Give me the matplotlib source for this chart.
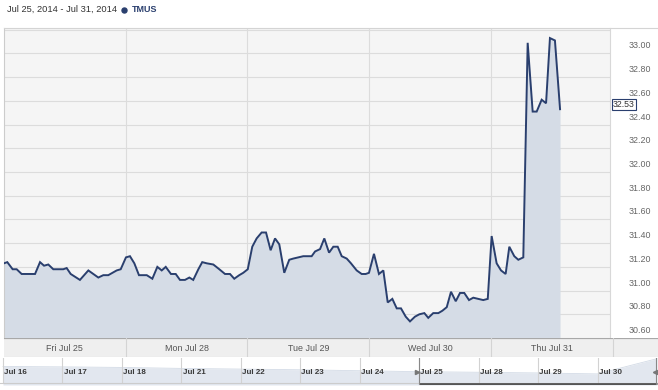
import matplotlib

matplotlib.use("Agg")
import matplotlib.pyplot as plt
from matplotlib.lines import Line2D
from matplotlib.transforms import offset_copy, blended_transform_factory

plt.rcParams["font.family"] = ["Liberation Sans", "DejaVu Sans"]

# -- Data ---------------------------------------------------------------------

# position in trading days since the Jul 25 open (1 unit = one session)
t = [0.000, 0.027, 0.071, 0.104, 0.145, 0.255, 0.296, 0.329, 0.364, 0.405,
     0.487, 0.515, 0.548, 0.624, 0.693, 0.775, 0.816, 0.857, 0.926, 0.959,
     1.002, 1.035, 1.071, 1.109, 1.173, 1.219, 1.260, 1.296, 1.329, 1.372,
     1.411, 1.446, 1.487, 1.523, 1.555, 1.597, 1.629, 1.666, 1.720, 1.769,
     1.816, 1.857, 1.892, 1.933, 1.966, 2.003, 2.040, 2.076, 2.117, 2.153,
     2.191, 2.227, 2.262, 2.303, 2.344, 2.377, 2.418, 2.459, 2.528, 2.556,
     2.597, 2.632, 2.671, 2.706, 2.742, 2.775, 2.816, 2.851, 2.898, 2.939,
     2.972, 2.999, 3.040, 3.081, 3.117, 3.153, 3.191, 3.227, 3.262, 3.301,
     3.336, 3.377, 3.413, 3.454, 3.486, 3.527, 3.569, 3.602, 3.638, 3.673,
     3.712, 3.747, 3.782, 3.821, 3.856, 3.897, 3.938, 3.975, 4.007, 4.048,
     4.084, 4.122, 4.152, 4.193, 4.226, 4.267, 4.303, 4.344, 4.377, 4.418,
     4.454, 4.486, 4.527, 4.569]
price = [31.23, 31.24, 31.18, 31.18, 31.14, 31.14, 31.24, 31.21, 31.22, 31.18,
         31.18, 31.19, 31.14, 31.09, 31.17, 31.11, 31.13, 31.13, 31.17, 31.18,
         31.28, 31.29, 31.23, 31.13, 31.13, 31.10, 31.20, 31.17, 31.20, 31.14,
         31.14, 31.09, 31.09, 31.11, 31.09, 31.18, 31.24, 31.23, 31.22, 31.18,
         31.14, 31.14, 31.10, 31.13, 31.15, 31.18, 31.37, 31.44, 31.49, 31.49,
         31.34, 31.44, 31.39, 31.15, 31.26, 31.27, 31.28, 31.29, 31.29, 31.33,
         31.35, 31.44, 31.32, 31.37, 31.37, 31.29, 31.27, 31.23, 31.17, 31.14,
         31.14, 31.15, 31.31, 31.14, 31.17, 30.90, 30.93, 30.85, 30.85, 30.78,
         30.74, 30.78, 30.80, 30.81, 30.77, 30.81, 30.81, 30.83, 30.86, 30.99,
         30.91, 30.98, 30.98, 30.92, 30.94, 30.93, 30.92, 30.93, 31.46, 31.23,
         31.17, 31.14, 31.37, 31.29, 31.26, 31.28, 33.09, 32.51, 32.51, 32.61,
         32.58, 33.13, 33.11, 32.53]

day_labels = ["Fri Jul 25", "Mon Jul 28", "Tue Jul 29", "Wed Jul 30", "Thu Jul 31"]
y_ticks = [30.60, 30.80, 31.00, 31.20, 31.40, 31.60, 31.80, 32.00,
           32.20, 32.40, 32.60, 32.80, 33.00]
last_price = 32.53

nav_labels = ["Jul 16", "Jul 17", "Jul 18", "Jul 21", "Jul 22", "Jul 23",
              "Jul 24", "Jul 25", "Jul 28", "Jul 29", "Jul 30"]
nav_close = [31.72, 31.68, 31.62, 31.52, 31.45, 31.38, 31.28, 31.18,
             31.12, 31.05, 30.95, 32.53]

title_range = "Jul 25, 2014 - Jul 31, 2014"
symbol = "TMUS"

# -- Style --------------------------------------------------------------------

W, H = 658, 390
NAVY = "#2a3f6e"
FILL = "#d5dce6"
GRID = "#dcdcdc"
PLOT_BG = "#f5f5f5"


def px_axes(fig, x0, y0, x1, y1):
    return fig.add_axes([x0 / W, 1 - y1 / H, (x1 - x0) / W, (y1 - y0) / H])


fig = plt.figure(figsize=(W / 100, H / 100), dpi=100)
fig.patch.set_facecolor("white")

# header
fig.text(7 / W, 1 - 9.5 / H, title_range, fontsize=6.7, color="#333333", va="center")
fig.add_artist(Line2D([124 / W], [1 - 9.5 / H], marker="o", ms=3.6, color=NAVY,
                      transform=fig.transFigure))
fig.text(132 / W, 1 - 9.5 / H, symbol, fontsize=6.5, color=NAVY, va="center",
         fontweight="bold")
fig.add_artist(Line2D([4 / W, 1], [1 - 28 / H, 1 - 28 / H], color="#d4d4d4", lw=0.8,
                      transform=fig.transFigure))

# -- Main price panel ---------------------------------------------------------

ax = px_axes(fig, 4, 28, 610, 338)
ax.set_facecolor(PLOT_BG)
ax.set_xlim(0, 606 / 121.7)
ax.set_ylim(30.6, 33.215)

for v in y_ticks + [33.2]:
    ax.axhline(v, color=GRID, lw=0.8, zorder=1)
for d in range(1, 5):
    ax.axvline(d, color=GRID, lw=0.8, zorder=1)

ax.fill_between(t, price, 30.6, color=FILL, lw=0, zorder=2)
ax.plot(t, price, color=NAVY, lw=1.4, zorder=3, solid_joinstyle="miter")

ax.set_xticks([])
ax.set_yticks([])
for s in ["top", "bottom"]:
    ax.spines[s].set_visible(False)
ax.spines["left"].set_color("#cccccc")
ax.spines["right"].set_color("#d8d8d8")
ax.spines["left"].set_linewidth(0.8)
ax.spines["right"].set_linewidth(0.8)

ytrans = blended_transform_factory(ax.transAxes, ax.transData)
lab_trans = offset_copy(ytrans, fig=fig, x=41, y=7.5, units="dots")
for v in y_ticks:
    ax.text(1.0, v, f"{v:.2f}", transform=lab_trans, ha="right", va="center",
            fontsize=6.4, color="#666666", clip_on=False)

last_trans = offset_copy(ytrans, fig=fig, x=3, y=4.5, units="dots")
ax.text(1.0, last_price, f"{last_price:.2f}", transform=last_trans, ha="left",
        va="center", fontsize=6.3, color="#333333", clip_on=False,
        bbox=dict(boxstyle="square,pad=0.12", fc="white", ec=NAVY, lw=0.8))

# -- Day label strip ----------------------------------------------------------

strip = px_axes(fig, 4, 338, 658, 357)
strip.set_facecolor("#efefef")
strip.set_xlim(0, 654 / 121.7)
strip.set_ylim(0, 1)
strip.set_xticks([])
strip.set_yticks([])
for s in strip.spines.values():
    s.set_visible(False)
strip.axhline(1, color="#a8a8a8", lw=1.6)
strip.axhline(0, color="#d0d0d0", lw=0.8)
for d in range(1, 6):
    strip.axvline(d, color="#d4d4d4", lw=0.8)
for i, lab in enumerate(day_labels):
    strip.text(i + 0.5, 0.45, lab, ha="center", va="center", fontsize=6.4,
               color="#555555")

# -- Navigator ----------------------------------------------------------------

nav = px_axes(fig, 0, 358, 658, 385)
nav.set_facecolor("white")
nav.set_xlim(-3 / 59.45, 11 + 1 / 59.45)
nav.set_ylim(29.8, 32.6)
nav.set_xticks([])
nav.set_yticks([])
for s in nav.spines.values():
    s.set_visible(False)

nav_x = list(range(len(nav_close)))
nav.fill_between(nav_x, nav_close, 29.8, color="#e2e7ef", lw=0, zorder=1)
nav.plot(nav_x, nav_close, color="#d3dbe6", lw=0.6, zorder=2)
nav_lab_trans = blended_transform_factory(nav.transData, nav.transAxes)
for i, lab in enumerate(nav_labels):
    nav.axvline(i, ymin=0.1, ymax=1, color="#d2d2d2", lw=0.8, zorder=3)
    nav.text(i + 0.02, 0.45, lab, transform=nav_lab_trans, ha="left", va="center",
             fontsize=5.8, fontweight="bold", color="#3a3a3a", zorder=4)

nav.axhline(29.8 + 0.06 * 2.8, color="#cccccc", lw=0.8, zorder=3)
nav.plot([7, 11], [29.8 + 0.04 * 2.8] * 2, color="#555555", lw=2.0, zorder=5,
         solid_capstyle="butt")
nav.axvline(7, color="#888888", lw=0.8, zorder=5)
nav.axvline(10.98, color="#888888", lw=0.8, zorder=5)
nav.plot([6.96], [31.1], marker=">", ms=3, color="#777777", zorder=6)
nav.plot([10.96], [31.1], marker="<", ms=3, color="#777777", zorder=6)

fig.savefig("out.png", dpi=100)
plt.close(fig)
